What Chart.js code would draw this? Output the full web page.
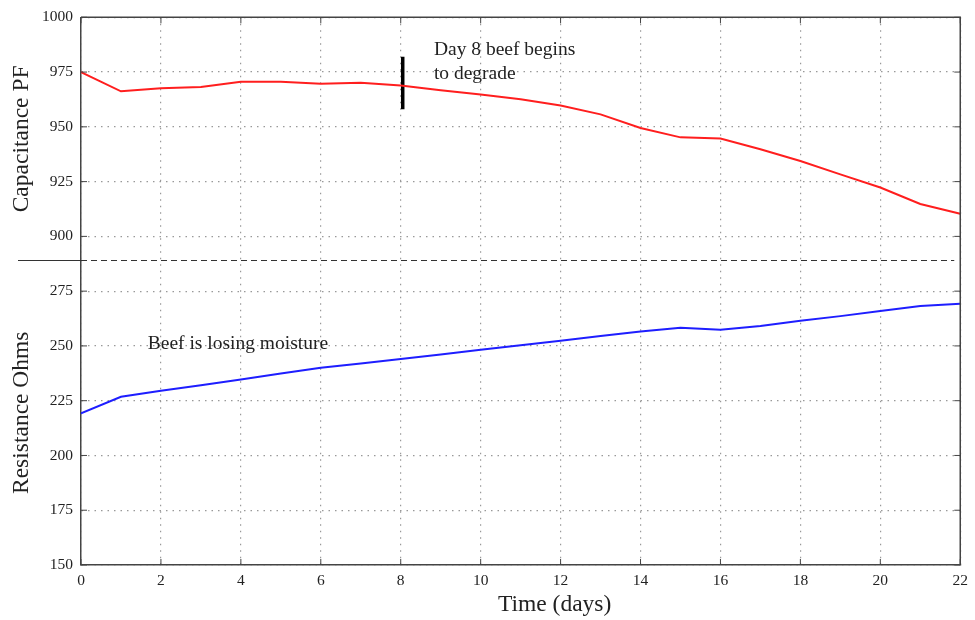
<!DOCTYPE html>
<html>
<head>
<meta charset="utf-8">
<script src="https://cdn.jsdelivr.net/npm/chart.js@4.4.0/dist/chart.umd.min.js"></script>
<style>
  body { margin: 0; background: #fff; }
  #wrap { width: 975px; height: 620px; }
</style>
</head>
<body>
<div id="wrap"><canvas id="myChart"></canvas></div>
<script>
var days = [0, 1, 2, 3, 4, 5, 6, 7, 8, 9, 10, 11, 12, 13, 14, 15, 16, 17, 18, 19, 20, 21, 22];
var capacitance = [975, 966.2, 967.6, 968.2, 970.6, 970.6, 969.7, 970.1, 968.9, 966.7, 964.8, 962.6,
                   959.7, 955.7, 949.5, 945.2, 944.7, 939.8, 934.4, 928.3, 922.3, 914.8, 910.3];
var resistance = [219.2, 226.8, 229.5, 232.1, 234.7, 237.4, 240, 242, 244, 246.1, 248.3, 250.3,
                  252.4, 254.5, 256.6, 258.3, 257.4, 259.1, 261.5, 263.6, 265.9, 268.2, 269.2];
var capTicks = [900, 925, 950, 975, 1000];
var resTicks = [150, 175, 200, 225, 250, 275];
var dayTicks = [0, 2, 4, 6, 8, 10, 12, 14, 16, 18, 20, 22];
var markerDays = [8.05, 8.05];
var markerValues = [958, 982];

var serif = '"Liberation Serif", "DejaVu Serif", serif';

function keepTicks(list) {
  return function (scale) {
    scale.ticks = list.map(function (v) { return { value: v }; });
  };
}

function pts(xs, ys) {
  return xs.map(function (x, i) { return { x: x, y: ys[i] }; });
}

// frame, inward ticks, separator, x title and the two notes
var extras = {
  id: 'extras',
  afterDraw: function (chart) {
    var c = chart.ctx, a = chart.chartArea, s = chart.scales;
    c.save();
    c.strokeStyle = '#444';
    c.lineWidth = 1.5;
    c.beginPath();
    c.moveTo(a.left, a.top); c.lineTo(a.right, a.top); c.lineTo(a.right, a.bottom);
    c.stroke();

    c.lineWidth = 1;
    c.beginPath();
    dayTicks.forEach(function (d) {
      var px = s.x.getPixelForValue(d);
      c.moveTo(px, a.top); c.lineTo(px, a.top + 6);
      c.moveTo(px, a.bottom); c.lineTo(px, a.bottom - 6);
    });
    capTicks.forEach(function (v) {
      var py = s.y2.getPixelForValue(v);
      c.moveTo(a.right, py); c.lineTo(a.right - 6, py);
      c.moveTo(a.left, py); c.lineTo(a.left + 6, py);
    });
    resTicks.forEach(function (v) {
      var py = s.y.getPixelForValue(v);
      c.moveTo(a.right, py); c.lineTo(a.right - 6, py);
      c.moveTo(a.left, py); c.lineTo(a.left + 6, py);
    });
    c.stroke();

    // panel separator
    var sy = s.y2.bottom;
    c.strokeStyle = '#333';
    c.lineWidth = 1.2;
    c.beginPath();
    c.moveTo(18, sy); c.lineTo(a.left, sy);
    c.stroke();
    c.setLineDash([6, 4]);
    c.beginPath();
    c.moveTo(a.left, sy); c.lineTo(a.right - 6, sy);
    c.stroke();
    c.setLineDash([]);

    c.fillStyle = '#222';
    c.textBaseline = 'middle';
    c.textAlign = 'center';
    c.font = '23.5px ' + serif;
    c.fillText('Time (days)', s.x.getPixelForValue(11.85), 605);

    c.font = '19.5px ' + serif;
    c.textAlign = 'left';
    c.fillText('Day 8 beef begins', s.x.getPixelForValue(8.83), s.y2.getPixelForValue(985));
    c.fillText('to degrade', s.x.getPixelForValue(8.83), s.y2.getPixelForValue(974.3));
    c.fillText('Beef is losing moisture', s.x.getPixelForValue(1.67), s.y.getPixelForValue(250.8));
    c.restore();
  }
};

var tickFont = { family: serif, size: 15.5 };
var titleFont = { family: serif, size: 23.5 };
var gridOpts = { color: '#999', lineWidth: 1.2, drawTicks: false };
var borderOpts = { color: '#444', width: 1.5, dash: [1.5, 5] };

var ctx = document.getElementById('myChart').getContext('2d');
var chart = new Chart(ctx, {
  type: 'line',
  data: {
    datasets: [{
      label: 'Resistance',
      data: pts(days, resistance),
      yAxisID: 'y',
      borderColor: 'rgb(30, 30, 255)',
      borderWidth: 2,
      pointRadius: 0,
      fill: false
    }, {
      label: 'Capacitance',
      data: pts(days, capacitance),
      yAxisID: 'y2',
      borderColor: 'rgb(255, 30, 30)',
      borderWidth: 2,
      pointRadius: 0,
      fill: false
    }, {
      label: 'Day 8',
      data: pts(markerDays, markerValues),
      yAxisID: 'y2',
      borderColor: '#000',
      borderWidth: 3.5,
      pointRadius: 0,
      fill: false
    }]
  },
  plugins: [extras],
  options: {
    responsive: true,
    maintainAspectRatio: false,
    animation: false,
    layout: { padding: { top: 15, right: 13, left: 0, bottom: 0 } },
    plugins: { legend: { display: false }, tooltip: { enabled: false } },
    scales: {
      x: {
        type: 'linear',
        min: 0, max: 22,
        afterBuildTicks: keepTicks(dayTicks),
        afterFit: function (s) { s.height = 55; },
        grid: gridOpts,
        border: borderOpts,
        ticks: { color: '#222', padding: 7, font: tickFont, callback: function (v) { return String(v); } }
      },
      y: {
        type: 'linear',
        position: 'left',
        stack: 'panels',
        stackWeight: 139,
        min: 150, max: 289,
        afterBuildTicks: keepTicks(resTicks),
        afterFit: function (s) { s.width = 81; },
        grid: gridOpts,
        border: borderOpts,
        ticks: { color: '#222', padding: 8, font: tickFont, callback: function (v) { return String(v); } },
        title: { display: true, text: 'Resistance Ohms', color: '#222', padding: { top: 8, bottom: 0 },
                 font: titleFont }
      },
      y2: {
        type: 'linear',
        position: 'left',
        stack: 'panels',
        stackWeight: 111,
        min: 889, max: 1000,
        afterBuildTicks: keepTicks(capTicks),
        afterFit: function (s) { s.width = 81; },
        grid: gridOpts,
        border: borderOpts,
        ticks: { color: '#222', padding: 8, font: tickFont, callback: function (v) { return String(v); } },
        title: { display: true, text: 'Capacitance PF', color: '#222', padding: { top: 8, bottom: 0 },
                 font: titleFont }
      }
    }
  }
});
</script>
</body>
</html>
